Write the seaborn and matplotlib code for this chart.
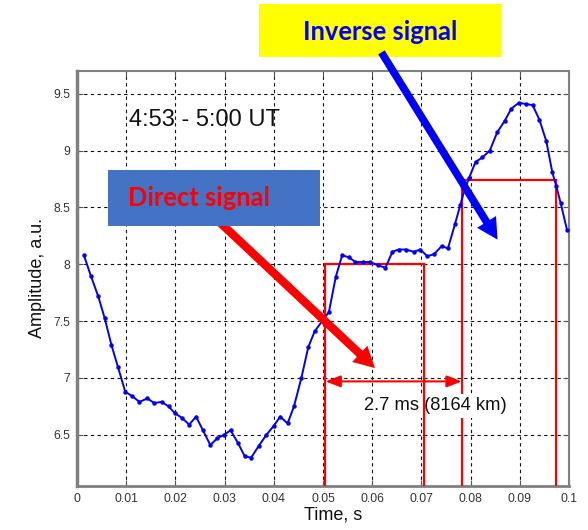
import numpy as np
import pandas as pd
import matplotlib
matplotlib.use("Agg")
import matplotlib.pyplot as plt
import seaborn as sns
from matplotlib.patches import Rectangle, FancyArrowPatch

# Measured signal amplitude over a 0.1 s window
time_s = [0.0014, 0.0028, 0.0043, 0.0056, 0.0070, 0.0083, 0.0098, 0.0112, 0.0127, 0.0143,
          0.0157, 0.0172, 0.0186, 0.0199, 0.0213, 0.0228, 0.0242, 0.0256, 0.0271, 0.0285,
          0.0299, 0.0312, 0.0327, 0.0341, 0.0354, 0.0369, 0.0385, 0.0400, 0.0413, 0.0428,
          0.0441, 0.0456, 0.0470, 0.0483, 0.0500, 0.0512, 0.0526, 0.0539, 0.0553, 0.0566,
          0.0581, 0.0596, 0.0612, 0.0627, 0.0641, 0.0654, 0.0669, 0.0684, 0.0698, 0.0712,
          0.0726, 0.0741, 0.0754, 0.0768, 0.0779, 0.0788, 0.0797, 0.0810, 0.0824, 0.0839,
          0.0854, 0.0869, 0.0883, 0.0898, 0.0912, 0.0926, 0.0940, 0.0954, 0.0966, 0.0974,
          0.0983, 0.0996]
amplitude = [8.08, 7.90, 7.72, 7.53, 7.29, 7.10, 6.88, 6.84, 6.79, 6.82,
             6.78, 6.79, 6.75, 6.69, 6.65, 6.59, 6.66, 6.54, 6.41, 6.47,
             6.50, 6.54, 6.43, 6.31, 6.30, 6.40, 6.50, 6.58, 6.66, 6.60,
             6.75, 7.00, 7.27, 7.41, 7.51, 7.58, 7.89, 8.08, 8.06, 8.02,
             8.02, 8.02, 7.99, 7.97, 8.11, 8.13, 8.13, 8.11, 8.13, 8.07,
             8.09, 8.16, 8.14, 8.35, 8.52, 8.66, 8.76, 8.90, 8.94, 9.00,
             9.16, 9.26, 9.37, 9.42, 9.41, 9.40, 9.27, 9.08, 8.81, 8.69,
             8.54, 8.30]

# Pulse windows: (start, end, level)
direct_window = [0.0505, 0.0705, 8.00]
inverse_window = [0.0782, 0.0974, 8.74]

# Delay marker between the two windows
delay_y = 6.97
delay_label = "2.7 ms (8164 km)"
period_label = "4:53 - 5:00 UT"

x_ticks = [0, 0.01, 0.02, 0.03, 0.04, 0.05, 0.06, 0.07, 0.08, 0.09, 0.1]
x_tick_labels = ["0", "0.01", "0.02", "0.03", "0.04", "0.05", "0.06", "0.07", "0.08", "0.09", "0.1"]
y_ticks = [6.5, 7, 7.5, 8, 8.5, 9, 9.5]
y_tick_labels = ["6.5", "7", "7.5", "8", "8.5", "9", "9.5"]

sns.set_theme(style="white")
plt.rcParams["font.family"] = ["Liberation Sans", "DejaVu Sans"]

W, H = 588, 530
fig = plt.figure(figsize=(W / 100, H / 100), dpi=100)
ax = fig.add_axes([77 / W, 1 - 486 / H, (569 - 77) / W, (486 - 71) / H])

df = pd.DataFrame({"Time": time_s, "Amplitude": amplitude})
sns.lineplot(data=df, x="Time", y="Amplitude", ax=ax, color="#0000ff", linewidth=1.4,
             marker="o", markersize=3.2, markeredgewidth=0, zorder=6)

ylo, yhi = 6.05, 9.7
ax.set_xlim(0, 0.1)
ax.set_ylim(ylo, yhi)

# Grid and frame
ax.set_xticks(x_ticks)
ax.set_xticklabels(x_tick_labels)
ax.set_yticks(y_ticks)
ax.set_yticklabels(y_tick_labels)
ax.grid(True, color="#111111", linestyle=(0, (3, 3)), linewidth=0.8)
ax.set_axisbelow(True)
for side, sp in ax.spines.items():
    sp.set_visible(True)
    sp.set_color("#808080")
    sp.set_linewidth(1.5)
ax.spines["left"].set_linewidth(2.5)
ax.spines["bottom"].set_linewidth(2.0)
ax.tick_params(direction="in", length=4, width=0.8, color="#555555",
               top=True, right=True, bottom=True, left=True,
               labelsize=8.8, labelcolor="#333333", pad=5)

ax.set_xlabel("Time, s", fontsize=13, color="#111111", labelpad=1)
ax.xaxis.label.set_x(0.52)
ax.set_ylabel("Amplitude, a.u.", fontsize=13, color="#111111", labelpad=5)

# Pulse windows
for (x0, x1, lvl), z in ((direct_window, 5), (inverse_window, 3)):
    ax.plot([x0, x0, x1, x1], [ylo, lvl, lvl, ylo], color="#ff0000",
            linewidth=1.6, zorder=z, solid_joinstyle="miter")

# Delay arrow and label
ax.add_patch(FancyArrowPatch((direct_window[0], delay_y), (inverse_window[0], delay_y),
                             arrowstyle="<|-|>,head_length=9,head_width=3.5",
                             mutation_scale=1, color="#ff0000", linewidth=1.5,
                             shrinkA=0, shrinkB=0, zorder=5))
ax.text((direct_window[0] + inverse_window[0]) / 2 + 0.0085, 6.755, delay_label,
        fontsize=13.2, ha="center", va="center", color="#111111", zorder=4,
        bbox=dict(facecolor="white", edgecolor="none", pad=2.5))

ax.text(0.0105, 9.27, period_label, fontsize=17, ha="left", va="center",
        color="#111111", zorder=7)


def fig_pt(x, y):
    return (x / W, 1 - y / H)


# Direct signal callout
red_arrow = FancyArrowPatch(fig_pt(212, 215), fig_pt(377, 370),
                            transform=fig.transFigure,
                            arrowstyle="simple,head_length=15,head_width=16,tail_width=6",
                            mutation_scale=1, color="#ff0000", linewidth=0, zorder=8)
fig.patches.append(red_arrow)
fig.patches.append(Rectangle(fig_pt(108, 226), (320 - 108) / W, (226 - 170) / H,
                             transform=fig.transFigure, facecolor="#4472c4",
                             edgecolor="none", zorder=9))
fig.text(*fig_pt(128, 198), "Direct signal", fontsize=18.4, fontweight="bold",
         family=["Lato", "DejaVu Sans"], color="#ff0000", ha="left", va="center", zorder=10)

# Inverse signal callout
fig.patches.append(Rectangle(fig_pt(259, 57), (501 - 259) / W, (57 - 4) / H,
                             transform=fig.transFigure, facecolor="#ffff00",
                             edgecolor="none", zorder=9))
fig.text(*fig_pt(380, 32), "Inverse signal", fontsize=18.4, fontweight="bold",
         family=["Lato", "DejaVu Sans"], color="#0000ff", ha="center", va="center", zorder=10)
blue_arrow = FancyArrowPatch(fig_pt(380, 50), fig_pt(499, 242),
                             transform=fig.transFigure,
                             arrowstyle="simple,head_length=15,head_width=16,tail_width=5.5",
                             mutation_scale=1, color="#0000ff", linewidth=0, zorder=11)
fig.patches.append(blue_arrow)

fig.savefig("out.png", dpi=100)
